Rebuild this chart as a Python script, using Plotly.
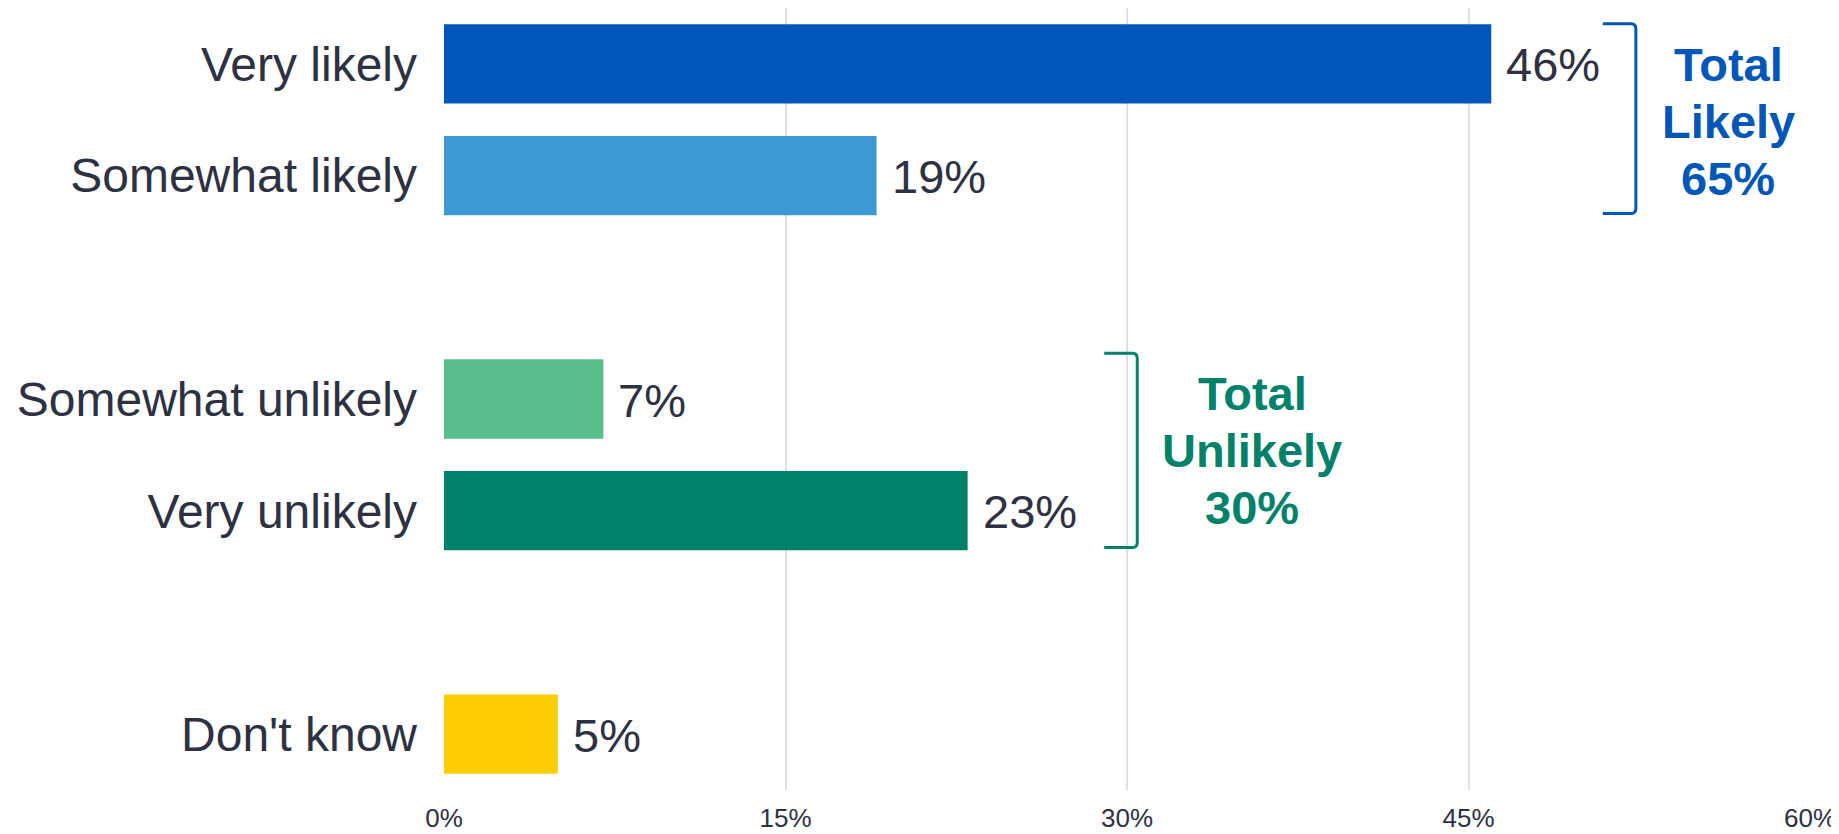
import plotly.graph_objects as go

# ---- data ----
groups = [
    ["Very likely", "Somewhat likely"],
    ["Somewhat unlikely", "Very unlikely"],
    ["Don't know"],
]
values = [46, 19, 7, 23, 5]
x_ticks = [0, 15, 30, 45, 60]
x_tick_labels = ["0%", "15%", "30%", "45%", "60%"]
total_names = ["Likely", "Unlikely"]
total_values = [65, 30]
total_groups = [0, 1]

# ---- styles / positions ----
bar_colors = ["#0057B8", "#3B99D3", "#57BE8C", "#00816A", "#FFCC00"]
total_colors = ["#0057B8", "#00816A"]
bracket_x = [52.35, 30.45]      # x of the bracket's vertical stroke
total_text_x = [56.40, 35.51]   # centre of the "Total ..." text block
total_text_dy = [-3, 0]         # px nudge of the text block
bracket_dy = [(-0.36, 0.34), (-0.41, 0.33)]
LINE_GAP = 57                   # px between lines of the total labels

# ---- layout of slots (one empty slot between groups) ----
cats, pos, group_pos = [], [], []
p = 0
for g in groups:
    gp = []
    for c in g:
        cats.append(c)
        pos.append(p)
        gp.append(p)
        p += 1
    group_pos.append(gp)
    p += 1
last = max(pos)

TEXT = "#2D3142"
FONT = "Arial, 'Liberation Sans', sans-serif"

fig = go.Figure()
fig.add_trace(go.Bar(
    x=values, y=pos, orientation="h", width=0.71,
    marker=dict(color=bar_colors, line=dict(width=0)),
    hoverinfo="skip",
))

# value labels
for v, yp in zip(values, pos):
    fig.add_annotation(x=v, y=yp, xref="x", yref="y", text=f"{v}%",
                       showarrow=False, xanchor="left", yanchor="middle",
                       xshift=13, yshift=-1,
                       font=dict(size=47, color=TEXT, family=FONT))

# brackets + totals
for i, (name, tv, gi) in enumerate(zip(total_names, total_values, total_groups)):
    gp = group_pos[gi]
    y0 = min(gp) + bracket_dy[i][0]
    y1 = max(gp) + bracket_dy[i][1]
    x1 = bracket_x[i]
    x0 = x1 - 1.45
    rx, ry = 0.2, 0.045
    path = (f"M {x0},{y0} L {x1 - rx},{y0} Q {x1},{y0} {x1},{y0 + ry} "
            f"L {x1},{y1 - ry} Q {x1},{y1} {x1 - rx},{y1} L {x0},{y1}")
    fig.add_shape(type="path", path=path, xref="x", yref="y",
                  line=dict(color=total_colors[i], width=3))
    lines = ["Total", name, f"{tv}%"]
    yc = (y0 + y1) / 2
    for k, ln in enumerate(lines):
        fig.add_annotation(x=total_text_x[i], y=yc, xref="x", yref="y",
                           text=f"<b>{ln}</b>", showarrow=False,
                           xanchor="center", yanchor="middle",
                           yshift=LINE_GAP * (1 - k) + total_text_dy[i],
                           font=dict(size=47, color=total_colors[i], family=FONT))

# the page body adds an 8px margin, so the figure is sized/offset to compensate
fig.update_layout(
    width=1831, height=826,
    margin=dict(l=436, r=29, t=0, b=44),
    plot_bgcolor="white", paper_bgcolor="white",
    showlegend=False,
    font=dict(family=FONT, color=TEXT),
    xaxis=dict(range=[0, 60], tickvals=x_ticks, ticktext=x_tick_labels,
               showgrid=True, gridcolor="#DCDFEA", gridwidth=1.5,
               zeroline=False, showline=False, ticks="",
               ticklabelstandoff=10, automargin=False,
               tickfont=dict(size=26, color=TEXT, family=FONT)),
    yaxis=dict(range=[last + 0.5, -0.5], tickvals=pos, ticktext=cats,
               showgrid=False, zeroline=False, showline=False, ticks="",
               ticklabelstandoff=26, automargin=False,
               tickfont=dict(size=48, color=TEXT, family=FONT)),
)

fig.write_html("out.html")
